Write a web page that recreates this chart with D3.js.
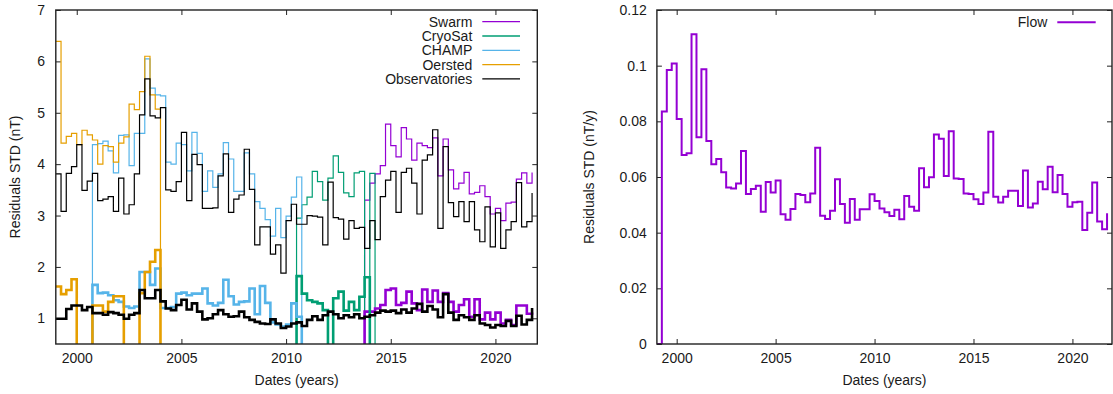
<!DOCTYPE html>
<html><head><meta charset="utf-8">
<script src="https://cdn.jsdelivr.net/npm/d3@7"></script>
<style>
body{margin:0;background:#fff;}
svg text{font-family:"Liberation Sans",Arial,Helvetica,sans-serif;font-size:14px;fill:#1a1a1a;}
</style></head><body>
<svg id="c" width="1113" height="394"></svg>
<script>
// ---- time grid (quarterly bins) ----
const firstYear = 1999, binStep = 0.25;

// ---- left panel: residual STD (nT) ----
const obsThinStart = 1999;
const obsThin = [3.81,3.08,3.82,3.95,4.38,3.49,3.67,3.82,3.29,3.32,
 3.37,3.08,3.73,3.03,3.21,3.81,4.96,5.66,4.94,4.90,
 5.10,3.50,3.47,3.66,4.62,3.29,4.19,3.99,3.14,3.14,
 3.15,3.77,4.20,3.06,3.32,3.40,4.29,3.51,2.43,2.78,
 2.78,2.25,2.43,1.88,2.90,3.22,2.83,2.83,3.00,2.99,
 2.97,2.43,3.65,2.96,2.93,2.54,2.90,2.75,2.77,2.36,
 2.90,2.53,3.37,3.69,3.86,3.06,3.84,3.92,3.63,3.03,
 4.08,4.18,4.67,2.75,4.34,3.25,2.98,3.27,2.88,3.27,
 2.72,2.49,3.17,2.39,3.05,2.36,2.72,2.88,3.64,2.78,
 2.88,3.44];
const obsThickStart = 1999;
const obsThick = [0.99,0.99,1.18,1.25,1.25,1.16,1.22,1.10,1.10,1.07,
 1.12,1.10,1.07,0.99,1.07,1.10,1.55,1.39,1.39,1.55,
 1.33,1.19,1.16,1.26,1.36,1.17,1.29,1.13,0.98,1.00,
 1.08,1.16,1.08,1.03,1.04,1.13,1.02,0.97,0.93,0.90,
 0.89,0.98,0.90,0.81,0.84,0.90,0.92,0.85,0.97,1.04,
 0.97,1.06,1.13,1.08,1.00,1.06,1.02,1.08,1.00,1.03,
 1.06,1.11,1.15,1.13,1.15,1.10,1.17,1.11,1.19,1.28,
 1.13,1.24,1.17,1.02,1.47,1.11,0.97,1.06,1.02,0.97,
 1.06,0.90,0.87,0.82,0.87,0.85,0.95,0.85,1.05,0.88,
 0.97,1.20];
const swarmThinStart = 2013.5;
const swarmThin = [0,3.30,3.63,3.81,3.97,4.78,4.36,4.14,4.71,4.49,4.08,4.41,4.36,4.32,4.51,3.77,4.49,3.89,3.52,3.63,3.84,3.42,3.45,3.58,3.37,3.03,3.14,2.90,3.24,3.26,3.71,3.83,3.63,3.84];
const swarmThickStart = 2013.5;
const swarmThick = [0,1.13,1.13,1.19,1.26,1.55,1.58,1.26,1.30,1.52,1.29,1.16,1.56,1.32,1.54,1.32,1.49,1.32,1.13,1.26,1.37,1.03,1.37,0.98,1.11,0.98,1.11,0.90,0.97,0.87,1.25,1.25,1.09,1.07];
const cryoThinStart = 2010.25;
const cryoThin = [0,2.95,3.21,3.36,3.86,3.66,3.30,3.73,4.16,3.84,3.44,3.37,3.83,3.86,0,3.82,0];
const cryoThickStart = 2010.25;
const cryoThick = [0,1.82,1.48,1.35,1.32,1.29,1.16,0,1.39,1.52,1.15,1.32,1.16,1.42,1.80,0];
const champThinStart = 2000.5;
const champThin = [0,4.38,4.40,4.45,4.26,3.83,4.56,4.57,3.97,4.60,4.60,6.05,5.48,5.35,5.33,4.04,4.00,4.41,4.38,3.87,4.62,4.21,3.47,3.87,3.55,3.81,4.42,4.10,3.47,3.47,4.22,3.81,3.27,3.14,2.92,2.60,3.14,2.57,2.99,3.36,3.75,0];
const champThickStart = 2000.5;
const champThick = [0,1.65,1.49,1.50,1.45,1.35,1.32,1.23,1.20,1.23,1.90,1.90,1.65,1.97,1.20,1.20,1.22,1.48,1.50,1.45,1.48,1.48,1.58,1.29,1.25,1.30,1.75,1.43,1.27,1.32,1.33,1.58,1.08,1.63,1.30,0.92,0.88,0.84,0.88,1.29,1.03,0];
const oerstedThinStart = 1999;
const oerstedThin = [6.39,4.41,4.54,4.60,4.38,4.66,4.57,4.47,4.00,4.36,4.34,4.04,4.41,4.53,5.17,5.06,5.41,6.10,5.35,5.07,0];
const oerstedThickStart = 1999;
const oerstedThick = [1.62,1.47,1.55,1.76,0,0,0,1.25,1.25,1.13,1.32,1.43,1.43,0,0,0,1.49,1.90,2.10,2.33,0];

const leftLegend = ["Swarm","CryoSat","CHAMP","Oersted","Observatories"];
const leftYTicks = [1,2,3,4,5,6,7];
const xTicks = [2000,2005,2010,2015,2020];

// ---- right panel: flow residual STD (nT/y) ----
const flowStart = 1999;
const flow = [0,0.0835,0.0984,0.1008,0.0808,0.0679,0.0685,0.1113,0.0743,0.0987,
 0.0729,0.0646,0.0665,0.0617,0.0562,0.0559,0.0577,0.0693,0.0539,0.0557,
 0.0569,0.0475,0.0582,0.0544,0.0587,0.0466,0.0446,0.0485,0.0539,0.0535,
 0.0509,0.0541,0.0705,0.0461,0.0449,0.0479,0.0592,0.0503,0.0436,0.0521,
 0.0446,0.0484,0.0484,0.0538,0.0514,0.0487,0.0473,0.0460,0.0482,0.0448,
 0.0532,0.0493,0.0479,0.0631,0.0563,0.0599,0.0753,0.0737,0.0604,0.0764,
 0.0595,0.0593,0.0541,0.0539,0.0520,0.0503,0.0544,0.0763,0.0529,0.0508,
 0.0529,0.0551,0.0551,0.0496,0.0623,0.0490,0.0505,0.0583,0.0556,0.0637,
 0.0545,0.0607,0.0539,0.0493,0.0509,0.0511,0.0410,0.0472,0.0580,0.0440,
 0.0412,0.0470];
const rightYTicks = [0,0.02,0.04,0.06,0.08,0.1,0.12];

const COL = {swarm:"#9400d3", cryo:"#009e73", champ:"#56b4e9", oersted:"#e69f00", obs:"#000000"};
const THIN = 1.2, THICK = 2.6;

const svg = d3.select("#c");
const toPts = (start, vals) => vals.map((v,i)=>({t:start + i*binStep, v}));

function panel(id, box, yDomain, yTicks, yFmt, yLabel, labelX) {
  const x = d3.scaleLinear().domain([1999, 2022]).range([box.x0, box.x1]);
  const y = d3.scaleLinear().domain(yDomain).range([box.y1, box.y0]);
  svg.append("clipPath").attr("id", id).append("rect")
    .attr("x", box.x0).attr("y", box.y0).attr("width", box.x1-box.x0).attr("height", box.y1-box.y0);
  const g = svg.append("g");
  const axStyle = sel => { sel.select(".domain").remove(); sel.selectAll("line").attr("stroke","#222").attr("stroke-width",1); };
  g.append("g").attr("transform",`translate(0,${box.y1})`)
    .call(d3.axisBottom(x).tickValues(xTicks).tickFormat(d3.format("d")).tickSize(-5).tickPadding(9)).call(axStyle);
  g.append("g").attr("transform",`translate(0,${box.y0})`)
    .call(d3.axisTop(x).tickValues(xTicks).tickFormat("").tickSize(-5)).call(axStyle);
  g.append("g").attr("transform",`translate(${box.x0},0)`)
    .call(d3.axisLeft(y).tickValues(yTicks).tickFormat(yFmt).tickSize(-5).tickPadding(box.pad)).call(axStyle);
  g.append("g").attr("transform",`translate(${box.x1},0)`)
    .call(d3.axisRight(y).tickValues(yTicks).tickFormat("").tickSize(-5)).call(axStyle);
  g.selectAll("text").attr("font-size",14).attr("font-family",'"Liberation Sans",Arial,sans-serif').attr("fill","#1a1a1a");
  const plot = svg.append("g").attr("clip-path",`url(#${id})`);
  svg.append("rect").attr("x",box.x0).attr("y",box.y0).attr("width",box.x1-box.x0).attr("height",box.y1-box.y0)
    .attr("fill","none").attr("stroke","#222").attr("stroke-width",1.4);
  svg.append("text").attr("transform",`translate(${labelX},${(box.y0+box.y1)/2}) rotate(-90)`)
    .attr("text-anchor","middle").text(yLabel);
  svg.append("text").attr("x",(box.x0+box.x1)/2).attr("y",385).attr("text-anchor","middle").text("Dates (years)");
  const line = d3.line().x(d=>x(d.t)).y(d=>y(d.v)).curve(d3.curveStepAfter);
  return {x, y, plot, line};
}

// Left panel
const L = panel("clipL", {x0:55.8, x1:537.3, y0:10, y1:344, pad:10.8}, [0.5,7], leftYTicks, d3.format("d"), "Residuals STD (nT)", 19.5);
const leftSeries = [
  [swarmThinStart, swarmThin, COL.swarm, THIN],
  [cryoThinStart, cryoThin, COL.cryo, THIN],
  [champThinStart, champThin, COL.champ, THIN],
  [oerstedThinStart, oerstedThin, COL.oersted, THIN],
  [obsThinStart, obsThin, COL.obs, THIN],
  [swarmThickStart, swarmThick, COL.swarm, THICK],
  [cryoThickStart, cryoThick, COL.cryo, THICK],
  [champThickStart, champThick, COL.champ, THICK],
  [oerstedThickStart, oerstedThick, COL.oersted, THICK],
  [obsThickStart, obsThick, COL.obs, THICK]
];
leftSeries.forEach(([s, vals, c, w]) => {
  L.plot.append("path").datum(toPts(s, vals)).attr("d", L.line)
    .attr("fill","none").attr("stroke", c).attr("stroke-width", w).attr("stroke-linejoin","miter");
});
const legCols = [COL.swarm, COL.cryo, COL.champ, COL.oersted, COL.obs];
leftLegend.forEach((name,i) => {
  const cy = 21.7 + i*14.3;
  svg.append("text").attr("x",472.3).attr("y",cy+5).attr("text-anchor","end").text(name);
  svg.append("line").attr("x1",482.3).attr("x2",520).attr("y1",cy).attr("y2",cy)
    .attr("stroke",legCols[i]).attr("stroke-width",1.3);
});

// Right panel
const R = panel("clipR", {x0:656.9, x1:1112, y0:10, y1:344, pad:10.2}, [0,0.12], rightYTicks, d3.format("~g"), "Residuals STD (nT/y)", 594);
R.plot.append("path").datum(toPts(flowStart, flow)).attr("d", R.line)
  .attr("fill","none").attr("stroke", COL.swarm).attr("stroke-width", 2);
svg.append("text").attr("x",1047.3).attr("y",27.3).attr("text-anchor","end").text("Flow");
svg.append("line").attr("x1",1057.3).attr("x2",1095.7).attr("y1",22.3).attr("y2",22.3)
  .attr("stroke",COL.swarm).attr("stroke-width",2);
</script></body></html>
